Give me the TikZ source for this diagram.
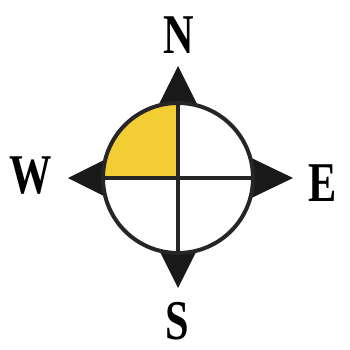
\documentclass[tikz,border=0pt]{standalone}
\usepackage{fontspec}
\setmainfont{Liberation Serif}
\usetikzlibrary{calc}
\definecolor{quadyellow}{RGB}{242,206,52}
\newcommand{\dirtext}[1]{\scalebox{0.92}[1.22]{#1}}
\begin{document}
\begin{tikzpicture}[x=1pt,y=-1pt,
  pointer/.style={fill=black!90},
  rim/.style={draw=black!85,line width=4pt},
  cross/.style={draw=black!85,line width=3.4pt},
  dirlabel/.style={inner sep=0pt,font=\fontsize{46}{46}\selectfont\bfseries}]
\useasboundingbox (0,0) rectangle (350,350);
\coordinate (c) at (178,178);
% pointers
\fill[pointer] ($(c)+(0,-112)$) -- ($(c)+(-25,-62)$) -- ($(c)+(25,-62)$) -- cycle;
\fill[pointer] ($(c)+(0,110)$) -- ($(c)+(-25,60)$) -- ($(c)+(25,60)$) -- cycle;
\fill[pointer] ($(c)+(-110,0)$) -- ($(c)+(-60,-25)$) -- ($(c)+(-60,25)$) -- cycle;
\fill[pointer] ($(c)+(115,0)$) -- ($(c)+(63,-25)$) -- ($(c)+(63,25)$) -- cycle;
% dial
\fill[white] (c) circle[radius=75];
\fill[quadyellow] (c) -- ++(-75,0) arc[start angle=180,end angle=270,radius=75] -- cycle;
\draw[cross] ($(c)+(-75,0)$) -- ($(c)+(75,0)$);
\draw[cross] ($(c)+(0,-75)$) -- ($(c)+(0,75)$);
\draw[rim] (c) circle[radius=75];
% labels
\node[dirlabel] (N) at (179,35) {\dirtext{N}};
\node[dirlabel] (S) at (177,321) {\dirtext{S}};
\node[dirlabel] (W) at (31,176) {\dirtext{W}};
\node[dirlabel] (E) at (323,183) {\dirtext{E}};
\end{tikzpicture}
\end{document}
